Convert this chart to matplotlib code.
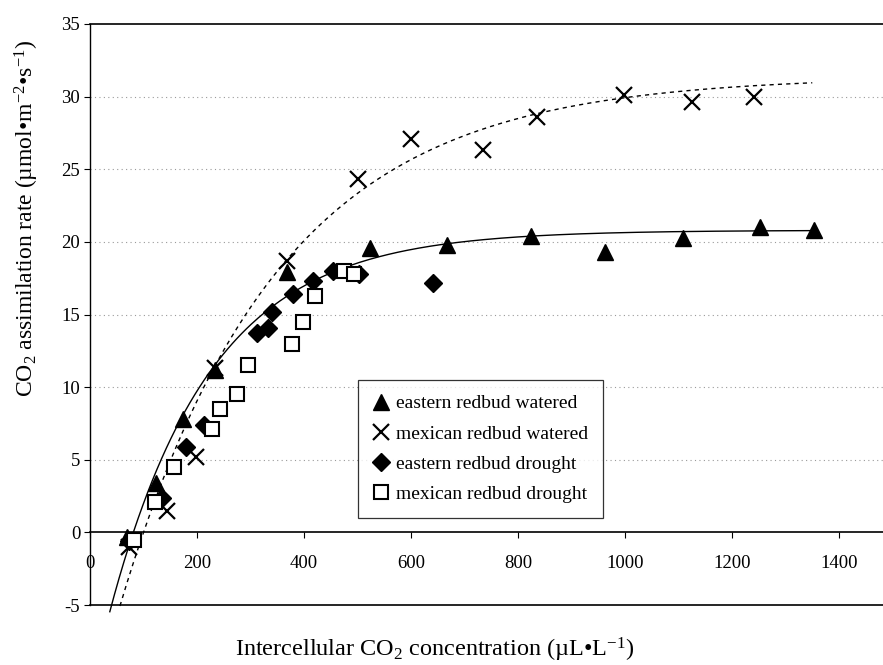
import numpy as np
import matplotlib.pyplot as plt

plt.rcParams['font.family'] = ['Liberation Serif', 'DejaVu Serif']
plt.rcParams['mathtext.fontset'] = 'custom'
plt.rcParams['mathtext.rm'] = 'Liberation Serif'
plt.rcParams['mathtext.it'] = 'Liberation Serif:italic'
plt.rcParams['axes.unicode_minus'] = False

# values
ew_x = [69, 124, 174, 234, 368, 523, 668, 825, 963, 1109, 1252, 1354]
ew_y = [-0.3, 3.4, 7.8, 11.2, 17.9, 19.6, 19.8, 20.4, 19.3, 20.3, 21.0, 20.8]

mw_x = [72, 143, 199, 234, 369, 500, 600, 735, 836, 999, 1126, 1241]
mw_y = [-1.0, 1.5, 5.2, 11.3, 18.7, 24.3, 27.1, 26.3, 28.6, 30.1, 29.6, 30.0]

ed_x = [72, 135, 179, 213, 313, 333, 341, 379, 417, 455, 502, 642]
ed_y = [-0.6, 2.4, 5.9, 7.4, 13.7, 14.1, 15.2, 16.4, 17.3, 18.0, 17.8, 17.2]

md_x = [82, 122, 157, 228, 243, 275, 295, 378, 398, 421, 475, 494]
md_y = [-0.5, 2.1, 4.5, 7.1, 8.5, 9.5, 11.5, 13.0, 14.5, 16.3, 18.0, 17.8]

labels = ['eastern redbud watered', 'mexican redbud watered',
          'eastern redbud drought', 'mexican redbud drought']

# trend lines (exponential rise to max), parameters
# (asymptote, rate, x intercept, x start, x end)
fit_east = (20.8, 0.0053, 81, 37, 1355)
fit_mex = (31.4, 0.0034, 100, 56, 1350)


def rise(p):
    a, k, x0, xs, xe = p
    x = np.linspace(xs, xe, 300)
    return x, a * (1 - np.exp(-k * (x - x0)))


fig = plt.figure(figsize=(8.83, 6.65), dpi=100)
ax = fig.add_axes([90/883, 60/665, 810/883, 581/665])
ax.set_xlim(0, 1514)
ax.set_ylim(-5, 35)

for y in range(5, 35, 5):
    ax.axhline(y, color='#9a9a9a', linestyle=(0, (1, 3)), linewidth=0.8, zorder=1)

x, y = rise(fit_east)
ax.plot(x, y, color='black', linewidth=1.0, clip_on=False, zorder=2)
x, y = rise(fit_mex)
ax.plot(x, y, color='black', linewidth=1.0, linestyle=(0, (3, 3)), clip_on=False, zorder=2)

ax.plot(ew_x, ew_y, '^', color='black', markersize=11, linestyle='none',
        label=labels[0], zorder=3)
ax.plot(mw_x, mw_y, 'x', color='black', markersize=11, markeredgewidth=1.6,
        linestyle='none', label=labels[1], zorder=3)
ax.plot(ed_x, ed_y, 'D', color='black', markersize=9, linestyle='none',
        label=labels[2], zorder=3)
ax.plot(md_x, md_y, 's', markerfacecolor='white', markeredgecolor='black',
        markersize=10, markeredgewidth=1.5, linestyle='none',
        label=labels[3], zorder=3)

# axes frame: y axis at x=0, x axis at y=0, border lines at top and bottom
ax.spines['right'].set_visible(False)
ax.spines['bottom'].set_position(('data', 0))
ax.spines['left'].set_linewidth(1.0)
ax.spines['top'].set_linewidth(1.2)
ax.spines['bottom'].set_linewidth(1.2)
ax.axhline(-5, color='black', linewidth=1.2, clip_on=False, zorder=2)

ax.set_xticks(range(0, 1401, 200))
ax.set_yticks(range(-5, 36, 5))
ax.tick_params(axis='x', direction='out', length=4, width=0.8, pad=12,
               labelsize=13.5)
ax.tick_params(axis='y', direction='out', length=4, width=0.8, pad=3,
               labelsize=13.5)

ax.set_ylabel(r'CO$_2$ assimilation rate (µmol•m$^{-2}$•s$^{-1}$)',
              fontsize=17)
ax.yaxis.set_label_coords(-0.06, 0.666)
fig.text(0.492, 0.002, r'Intercellular CO$_2$ concentration (µL•L$^{-1}$)',
         fontsize=17.5, ha='center', va='bottom')

leg = ax.legend(loc='upper left', bbox_to_anchor=(0.331, 0.387), fontsize=14,
                frameon=True, fancybox=False, edgecolor='black',
                handlelength=0.9, handletextpad=0.3, borderpad=0.75,
                labelspacing=0.65, borderaxespad=0)
leg.get_frame().set_linewidth(0.9)
leg.set_zorder(4)

fig.savefig('out.png', dpi=100)
